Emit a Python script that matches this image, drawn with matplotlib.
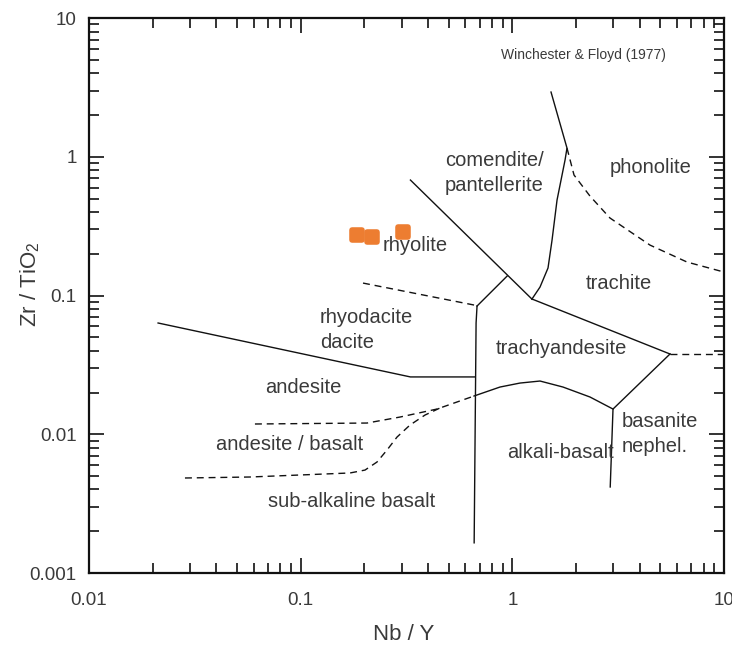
import matplotlib
matplotlib.use('Agg')
import matplotlib.pyplot as plt
from matplotlib.markers import MarkerStyle
from matplotlib.ticker import LogLocator, FuncFormatter, NullFormatter

plt.rcParams['font.family'] = ['Liberation Sans', 'DejaVu Sans']
plt.rcParams['mathtext.fontset'] = 'custom'
plt.rcParams['mathtext.rm'] = 'Liberation Sans'
plt.rcParams['mathtext.it'] = 'Liberation Sans:italic'

# samples (Nb/Y, Zr/TiO2)
nb_y = [0.185, 0.217, 0.304]
zr_tio2 = [0.273, 0.264, 0.287]

# solid field boundaries
rhy_com_x = [0.33, 1.24]
rhy_com_y = [0.68, 0.094]
branch_x = [0.944, 0.681]
branch_y = [0.138, 0.084]
vert_x = [0.681, 0.674, 0.66]
vert_y = [0.084, 0.0634, 0.00165]
and_x = [0.0212, 0.33, 0.665]
and_y = [0.0634, 0.0259, 0.0259]
com_x = [1.523, 1.812, 1.774, 1.626, 1.54, 1.474, 1.351, 1.238]
com_y = [2.93, 1.156, 0.948, 0.488, 0.251, 0.158, 0.1151, 0.0944]
tra_x = [1.238, 5.556]
tra_y = [0.0944, 0.0379]
bas_x = [5.556, 2.989, 2.9]
bas_y = [0.0379, 0.0152, 0.00417]
alk_x = [0.659, 0.874, 1.087, 1.351, 1.735, 2.327, 2.989]
alk_y = [0.01887, 0.0219, 0.0234, 0.0242, 0.0219, 0.01856, 0.0152]

# dashed field boundaries
pho_x = [1.812, 1.956, 2.327, 2.893, 4.47, 6.69, 10.0]
pho_y = [1.156, 0.739, 0.521, 0.362, 0.231, 0.1743, 0.1477]
rhd_x = [0.197, 0.66]
rhd_y = [0.123, 0.0854]
trd_x = [5.556, 10.0]
trd_y = [0.0379, 0.0379]
anb_x = [0.0608, 0.2058, 0.2946, 0.4405, 0.659]
anb_y = [0.01186, 0.01205, 0.01331, 0.0152, 0.01887]
sab_x = [0.0284, 0.0576, 0.171, 0.2013, 0.2294, 0.2558, 0.2852, 0.3285, 0.3867, 0.455]
sab_y = [0.00484, 0.00492, 0.00526, 0.00552, 0.00631, 0.0077, 0.00955, 0.01166, 0.01376, 0.01546]

# field names
labels = ['comendite/\npantellerite', 'phonolite', 'rhyolite', 'trachite',
          'rhyodacite\ndacite', 'trachyandesite', 'andesite', 'basanite\nnephel.',
          'andesite / basalt', 'alkali-basalt', 'sub-alkaline basalt']
label_x = [0.4807, 4.52, 0.3468, 3.19, 0.1234, 1.698, 0.1026, 3.30, 0.0891, 1.68, 0.1748]
label_y = [0.7637, 0.844, 0.231, 0.123, 0.0564, 0.0418, 0.0219, 0.01004, 0.0085, 0.00733, 0.00325]
label_ha = ['left', 'center', 'center', 'center', 'left', 'center', 'center', 'left',
            'center', 'center', 'center']

fig = plt.figure(figsize=(7.32, 6.46), dpi=100)
ax = fig.add_axes([0.1216, 0.113, 0.8675, 0.859])
ax.set_xscale('log')
ax.set_yscale('log')
ax.set_xlim(0.01, 10)
ax.set_ylim(0.001, 10)

lc = '#111111'
for x, y in [(rhy_com_x, rhy_com_y), (branch_x, branch_y), (vert_x, vert_y),
             (and_x, and_y), (com_x, com_y), (tra_x, tra_y), (bas_x, bas_y),
             (alk_x, alk_y)]:
    ax.plot(x, y, color=lc, lw=1.0)
for x, y in [(pho_x, pho_y), (rhd_x, rhd_y), (trd_x, trd_y), (anb_x, anb_y),
             (sab_x, sab_y)]:
    ax.plot(x, y, color=lc, lw=1.0, dashes=(5, 3.5))

tc = '#3a3a3a'
for s, x, y, ha in zip(labels, label_x, label_y, label_ha):
    ax.text(x, y, s, ha=ha, va='center', fontsize=14.5, color=tc, linespacing=1.42)

ax.text(2.157, 5.41, 'Winchester & Floyd (1977)', ha='center', va='center',
        fontsize=10, color=tc)

ax.plot(nb_y, zr_tio2, linestyle='none',
        marker=MarkerStyle('s', joinstyle='round'), ms=7, mew=4,
        mfc='#ED7D31', mec='#ED7D31', zorder=5)

fmt = FuncFormatter(lambda v, p: '{:g}'.format(v))
for axis in (ax.xaxis, ax.yaxis):
    axis.set_major_locator(LogLocator(base=10))
    axis.set_minor_locator(LogLocator(base=10, subs=range(2, 10)))
    axis.set_major_formatter(fmt)
    axis.set_minor_formatter(NullFormatter())

ax.tick_params(which='both', direction='in', top=True, right=True, color='#111111',
               labelsize=13.5, labelcolor=tc)
ax.tick_params(which='major', length=11, width=1.2)
ax.tick_params(which='minor', length=7, width=1.2)
ax.tick_params(axis='y', which='major', pad=9)
ax.tick_params(axis='x', which='major', pad=14)
for sp in ax.spines.values():
    sp.set_linewidth(1.6)
    sp.set_color('#111111')

ax.set_xlabel('Nb / Y', fontsize=16, color=tc)
ax.set_ylabel('Zr / TiO$_2$', fontsize=16, color=tc)
ax.xaxis.set_label_coords(0.495, -0.092)
ax.yaxis.set_label_coords(-0.074, 0.52)

fig.savefig('out.png', dpi=100)
